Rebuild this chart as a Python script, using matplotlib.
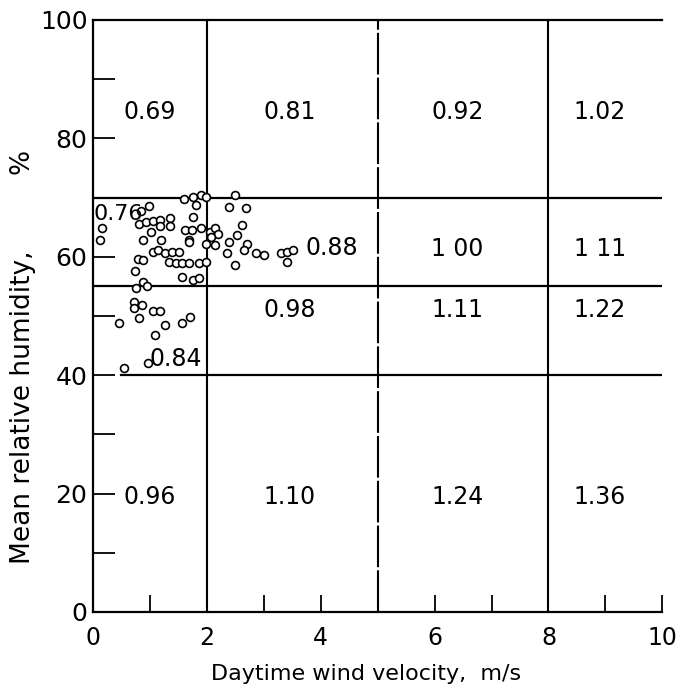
import numpy as np
import matplotlib.pyplot as plt

# Scatter points (wind m/s, humidity %)
wind = [0.15, 0.13, 0.84, 0.99,
        0.81, 0.93, 1.05, 1.17, 1.18, 1.35, 1.36,
        1.02, 0.87, 1.20,
        1.60, 1.75, 1.90, 1.99, 1.81, 1.75,
        1.62, 1.74, 1.89, 1.68,
        1.06, 1.15, 1.27, 1.39, 1.51, 0.79, 0.88,
        1.33, 1.45, 1.57, 1.69, 1.87, 1.99,
        0.73, 1.57, 1.75, 1.87,
        0.88, 0.76, 0.94,
        2.50, 2.38, 2.68, 2.62,
        2.05, 2.14, 2.20, 2.08,
        1.99, 2.14, 1.69,
        2.38, 2.53, 2.71, 2.65, 2.35, 2.50,
        2.86, 3.01, 3.31, 3.40, 3.52, 3.40,
        0.72, 0.72, 0.86, 1.05, 1.17, 0.45, 0.81, 1.26, 1.56, 1.70, 1.08, 0.54, 0.96]
humidity = [64.8, 62.8, 67.8, 68.5,
            65.6, 65.8, 66.0, 66.2, 65.2, 66.6, 65.2,
            64.2, 62.8, 62.8,
            69.8, 70.1, 70.4, 70.1, 68.7, 66.7,
            64.5, 64.6, 64.8, 62.8,
            60.8, 61.1, 60.6, 60.8, 60.8, 59.7, 59.4,
            59.2, 58.9, 58.9, 58.9, 58.9, 59.2,
            57.6, 56.6, 56.1, 56.4,
            55.8, 54.7, 55.0,
            70.4, 68.4, 68.2, 65.3,
            64.2, 64.8, 63.9, 63.4,
            62.2, 62.0, 62.5,
            62.5, 63.6, 62.2, 61.1, 60.6, 58.6,
            60.6, 60.3, 60.6, 60.8, 61.1, 59.2,
            52.3, 51.4, 51.8, 50.9, 50.9, 48.8, 49.6, 48.5, 48.8, 49.9, 46.8, 41.2, 42.1]

# Coefficients in each cell, rows from top to bottom
row_top = ["0.69", "0.81", "0.92", "1.02"]
row_2 = ["0.76", "0.88", "1 00", "1 11"]
row_3 = ["0.84", "0.98", "1.11", "1.22"]
row_bottom = ["0.96", "1.10", "1.24", "1.36"]

fig = plt.figure(figsize=(6.81, 6.94), dpi=100)
ax = fig.add_axes([0.1366, 0.1182, 0.836, 0.853])

ax.scatter(wind, humidity, s=32, facecolors="white", edgecolors="black",
           linewidths=1.2, zorder=3)

# grid lines
ax.plot([0, 10], [70, 70], color="black", lw=1.6)
ax.plot([0, 10], [55, 55], color="black", lw=1.6)
ax.plot([0.5, 10], [40, 40], color="black", lw=1.6)
ax.plot([2, 2], [0, 100], color="black", lw=1.5)
ax.plot([5, 5], [0, 100], color="black", lw=1.5, linestyle=(0, (20, 1.5)))
ax.plot([8, 8], [0, 100], color="black", lw=1.5)

# cell labels
col_x = [1.0, 3.45, 6.4, 8.9]
fs = 17
for i, lab in enumerate(row_top):
    ax.text(col_x[i], 84.5, lab, ha="center", va="center", fontsize=fs)
ax.text(0.0, 67.3, row_2[0], ha="left", va="center", fontsize=16)
ax.text(4.2, 61.5, row_2[1], ha="center", va="center", fontsize=fs)
for i in (2, 3):
    ax.text(col_x[i], 61.3, row_2[i], ha="center", va="center", fontsize=fs)
ax.text(1.45, 42.8, row_3[0], ha="center", va="center", fontsize=fs)
for i in (1, 2, 3):
    ax.text(col_x[i], 51, row_3[i], ha="center", va="center", fontsize=fs)
for i, lab in enumerate(row_bottom):
    ax.text(col_x[i], 19.5, lab, ha="center", va="center", fontsize=fs)

ax.set_xlim(0, 10)
ax.set_ylim(0, 100)
ax.spines["right"].set_visible(False)
for sp in ("left", "bottom", "top"):
    ax.spines[sp].set_linewidth(1.6)

ax.set_xticks(np.arange(0, 11, 1))
ax.set_xticklabels(["0", "", "2", "", "4", "", "6", "", "8", "", "10"])
ax.set_yticks([0, 20, 40, 60, 80, 100])
ax.set_yticks([10, 30, 50, 90], minor=True)
ax.tick_params(axis="x", direction="in", length=12, width=1.3, labelsize=17, pad=10)
ax.tick_params(axis="y", which="both", direction="in", length=16, width=1.3,
               labelsize=18, pad=4)

ax.set_xlabel("Daytime wind velocity,  m/s", fontsize=16)
ax.xaxis.set_label_coords(0.48, -0.088)
ax.set_ylabel("Mean relative humidity,         %", fontsize=19)
ax.yaxis.set_label_coords(-0.1, 0.43)

fig.savefig("out.png", dpi=100)
